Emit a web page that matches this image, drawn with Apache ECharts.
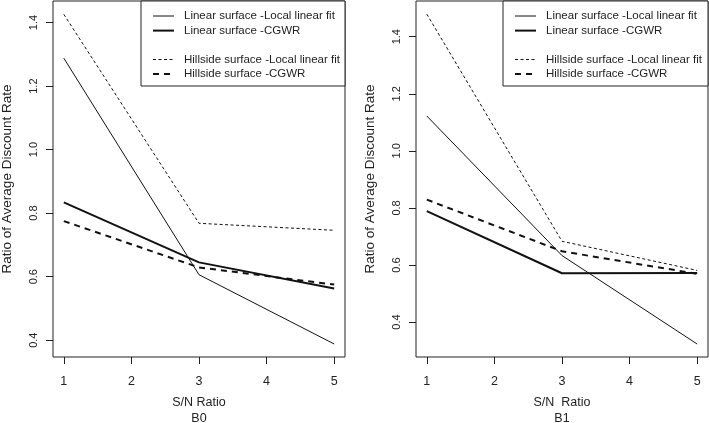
<!DOCTYPE html>
<html>
<head>
<meta charset="utf-8">
<script src="https://cdn.jsdelivr.net/npm/echarts@6/dist/echarts.min.js"></script>
<style>html,body{margin:0;padding:0;background:#fff;}#c{width:709px;height:423px;}</style>
</head>
<body>
<div id="c"></div>
<script>
// ---- data ----
const snRatio = [1, 3, 5];
const xTicks = [1, 2, 3, 4, 5];
const yTicks = [0.4, 0.6, 0.8, 1.0, 1.2, 1.4];
const b0LinearLocal = [1.288, 0.606, 0.388];
const b0LinearCGWR = [0.834, 0.645, 0.563];
const b0HillLocal = [1.426, 0.768, 0.746];
const b0HillCGWR = [0.775, 0.629, 0.575];
const b1LinearLocal = [1.122, 0.633, 0.323];
const b1LinearCGWR = [0.789, 0.571, 0.572];
const b1HillLocal = [1.479, 0.683, 0.581];
const b1HillCGWR = [0.829, 0.648, 0.569];
const names = ['Linear surface -Local linear fit', 'Linear surface -CGWR',
  'Hillside surface -Local linear fit', 'Hillside surface -CGWR'];
const panelTitles = ['S/N Ratio\nB0', 'S/N  Ratio\nB1'];
const yTitle = 'Ratio of Average Discount Rate';

const FONT = 'Liberation Sans, Arial, sans-serif';
const FS = 11.5;
const TXT = '#222';
const LINE = '#111';

const styles = [
  {width: 1, type: 'solid'},
  {width: 2, type: 'solid'},
  {width: 1, type: [3, 2.5]},
  {width: 2, type: [6, 5]}
];

function pairs(vals) { return snRatio.map((x, i) => [x, vals[i]]); }

function xAxis(gi, title) {
  return {
    type: 'value', gridIndex: gi, min: 0.84, max: 5.16,
    axisLine: {show: false},
    splitLine: {show: false},
    axisTick: {show: true, customValues: xTicks, length: 7, lineStyle: {color: TXT}},
    axisLabel: {customValues: xTicks, margin: 18, color: TXT, fontFamily: FONT, fontSize: 12.5},
    name: title, nameLocation: 'middle', nameGap: 38,
    nameTextStyle: {color: TXT, fontFamily: FONT, fontSize: 12.5, lineHeight: 15.7}
  };
}
function yAxis(gi, mn, mx) {
  return {
    type: 'value', gridIndex: gi, min: mn, max: mx,
    axisLine: {show: false},
    splitLine: {show: false},
    axisTick: {show: true, customValues: yTicks, length: 7, lineStyle: {color: TXT}},
    axisLabel: {customValues: yTicks, rotate: 90, margin: 14, color: TXT, fontFamily: FONT, fontSize: 11,
      formatter: v => Number(v).toFixed(1)},
    name: yTitle, nameLocation: 'middle', nameGap: 39,
    nameTextStyle: {color: TXT, fontFamily: FONT, fontSize: 13.5}
  };
}

const panels = [
  [b0LinearLocal, b0LinearCGWR, b0HillLocal, b0HillCGWR],
  [b1LinearLocal, b1LinearCGWR, b1HillLocal, b1HillCGWR]
];
const series = [];
panels.forEach((p, gi) => {
  p.forEach((vals, k) => {
    series.push({
      type: 'line', name: names[k], xAxisIndex: gi, yAxisIndex: gi,
      data: pairs(vals), symbol: 'none', silent: true, animation: false,
      lineStyle: {color: LINE, width: styles[k].width, type: styles[k].type},
      itemStyle: {color: LINE}
    });
  });
});

function legend(left, top, idx) {
  return {
    left: left, top: top, orient: 'vertical', padding: 0,
    itemWidth: 21, itemHeight: 14, itemGap: 0.6,
    selectedMode: false,
    data: idx.map(k => ({name: names[k],
      lineStyle: {color: LINE, width: styles[k].width, type: styles[k].type}})),
    itemStyle: {opacity: 0},
    textStyle: {color: TXT, fontFamily: FONT, fontSize: FS, lineHeight: 14, padding: [0, 0, 0, 5]}
  };
}

const gridBase = {top: 1, bottom: 66, show: true, borderColor: '#222', borderWidth: 1,
  backgroundColor: 'transparent', containLabel: false, outerBoundsMode: 'none'};

const option = {
  backgroundColor: '#fff',
  animation: false,
  grid: [
    Object.assign({left: 53, right: 364}, gridBase),
    Object.assign({left: 416, right: 1}, gridBase)
  ],
  xAxis: [xAxis(0, panelTitles[0]), xAxis(1, panelTitles[1])],
  yAxis: [yAxis(0, 0.347, 1.468), yAxis(1, 0.2776, 1.525)],
  graphic: [
    {type: 'rect', shape: {x: 141, y: 1, width: 204, height: 85}, style: {fill: '#fff', stroke: '#222', lineWidth: 1}, z: 1},
    {type: 'rect', shape: {x: 503, y: 1, width: 205, height: 85}, style: {fill: '#fff', stroke: '#222', lineWidth: 1}, z: 1}
  ],
  legend: [
    legend(152, 9, [0, 1]),
    legend(152, 52.5, [2, 3]),
    legend(514, 9, [0, 1]),
    legend(514, 52.5, [2, 3])
  ],
  series: series
};
const chart = echarts.init(document.getElementById('c'), null, {renderer: 'canvas'});
chart.setOption(option);
</script>
</body>
</html>
